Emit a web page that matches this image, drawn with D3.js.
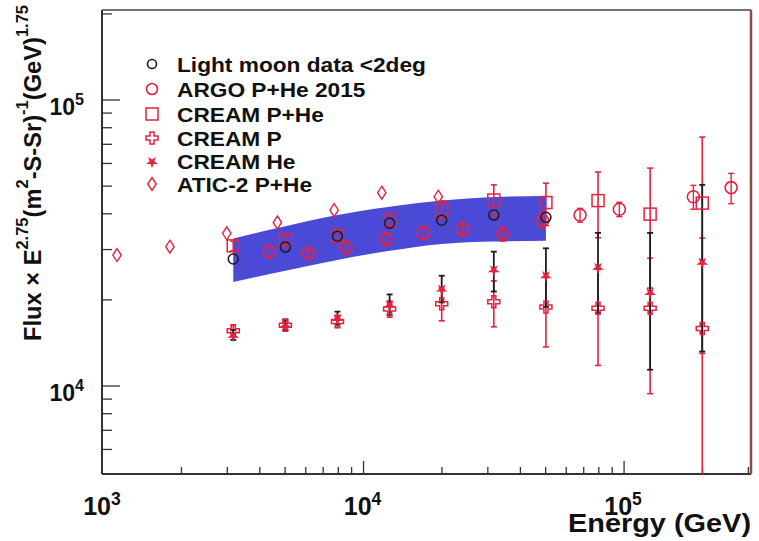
<!DOCTYPE html>
<html>
<head>
<meta charset="utf-8">
<script src="https://cdn.jsdelivr.net/npm/d3@7"></script>
<style>
  html, body { margin: 0; padding: 0; background: #fff; }
  svg { display: block; font-family: "Liberation Sans", Arial, Helvetica, sans-serif; }
</style>
</head>
<body>
<svg id="chart" width="759" height="541"></svg>
<script>
// ---- data -------------------------------------------------------------
// CREAM energy bins (GeV)
const creamE = [3162, 5012, 7943, 12589, 19953, 31623, 50119, 79433, 125893, 199526];
// CREAM P+He
const creamPHe = [30900, 32400, 33500, 38000, 41400, 44700, 43800, 44500, 39900, 43600];
const creamPHeErr = [1200, 1300, 1500, 2000, 3000, 5800, 7400, 11500, 17900, 30600];
// CREAM P
const creamP = [15600, 16300, 16800, 18600, 19400, 19700, 18900, 18700, 18700, 15900];
const creamPErr = [700, 700, 800, 1200, 2500, 3600, 5200, 6900, 9300, 17000];
// CREAM He (asymmetric errors)
const creamHe = [15100, 16400, 17300, 19300, 21900, 25600, 24400, 26100, 21300, 27200];
const creamHeErrLo = [600, 700, 900, 1600, 2300, 4200, 5500, 8100, 9900, 14000];
const creamHeErrHi = [600, 700, 900, 1600, 2400, 3900, 5900, 8200, 13000, 23300];

// Light moon data <2deg
const moonE = [3162, 5012, 7943, 12589, 19953, 31623, 50119];
const moonFlux = [27800, 30600, 33400, 37100, 38000, 39600, 38900];
// systematic band around the moon data
const bandLow = [23100, 25300, 27600, 29700, 31400, 32000, 32200];
const bandHigh = [32800, 36200, 39600, 42300, 44500, 45800, 46200];

// ARGO P+He 2015
const argoE = [4345, 6140, 8570, 12190, 16970, 24040, 34210, 48710, 67760, 95910, 184500, 257600];
const argoFlux = [29500, 29100, 30500, 32700, 34300, 35300, 34000, 37900, 39600, 41500, 45900, 49400];
const argoErr = [1400, 1400, 1500, 1700, 1800, 1900, 1900, 2100, 2200, 2400, 4400, 6000];

// ATIC-2 P+He
const aticE = [1132, 1807, 2985, 4670, 7710, 11750, 19360];
const aticFlux = [28700, 30700, 34200, 37300, 41200, 47400, 45900];

const legendLabels = ["Light moon data <2deg", "ARGO P+He 2015", "CREAM P+He", "CREAM P", "CREAM He", "ATIC-2 P+He"];
const xTickLabels = ["3", "4", "5"];   // exponents of 10
const yTickLabels = ["4", "5"];

// ---- drawing ----------------------------------------------------------
const RED = "#e8213f";
const BLACK = "#1e1e1e";
const BLUE = "#4a4ad6";

const svg = d3.select("#chart");
const pL = 102, pR = 751, pT = 10, pB = 474;

const x = d3.scaleLog().domain([1e3, 3.07e5]).range([103, pR]);
const y = d3.scaleLog().domain([4924, 206400]).range([pB, pT]);
const yMin = y.domain()[0];
const yc = v => y(Math.max(v, yMin));

// band
const band = d3.area()
  .x((d, i) => x(moonE[i]))
  .y0((d, i) => y(bandLow[i]))
  .y1((d, i) => y(bandHigh[i]))
  .curve(d3.curveMonotoneX);
svg.append("path").datum(moonE).attr("d", band).attr("fill", BLUE);

// frame
const frame = svg.append("g");
frame.append("line").attr("x1", pL).attr("x2", pR).attr("y1", pT).attr("y2", pT)
  .attr("stroke", "#444").attr("stroke-width", 1.5);
frame.append("line").attr("x1", pL).attr("x2", pL).attr("y1", pT).attr("y2", pB)
  .attr("stroke", "#333").attr("stroke-width", 2);
frame.append("line").attr("x1", pL).attr("x2", pR).attr("y1", pB).attr("y2", pB)
  .attr("stroke", "#333").attr("stroke-width", 2);
frame.append("line").attr("x1", pR).attr("x2", pR).attr("y1", pT).attr("y2", pB)
  .attr("stroke", "#8a4848").attr("stroke-width", 2.5);

// ticks
const isMajor = v => Math.abs(Math.log10(v) - Math.round(Math.log10(v))) < 1e-6;
const xt = x.ticks().filter(v => v > x.domain()[0] * 1.01 && v < x.domain()[1]);
svg.append("g").selectAll("line").data(xt).join("line")
  .attr("x1", d => x(d)).attr("x2", d => x(d))
  .attr("y1", pB).attr("y2", d => pB - (isMajor(d) ? 13 : 7))
  .attr("stroke", "#333").attr("stroke-width", 1.3);
const yt = y.ticks().filter(v => v > yMin * 1.02 && v < y.domain()[1]);
svg.append("g").selectAll("line").data(yt).join("line")
  .attr("x1", pL).attr("x2", d => pL + (isMajor(d) ? 18 : 10))
  .attr("y1", d => y(d)).attr("y2", d => y(d))
  .attr("stroke", "#333").attr("stroke-width", 1.3);

// tick labels
function powerLabel(g, exp, fs) {
  g.append("tspan").text("10");
  g.append("tspan").attr("font-size", fs * 0.7).attr("dy", -fs * 0.42).text(exp);
}
xTickLabels.forEach(e => {
  const t = svg.append("text").attr("x", x(Math.pow(10, +e)) - 1).attr("y", 515)
    .attr("text-anchor", "middle").attr("font-weight", "bold").attr("font-size", 25).attr("fill", "#111");
  powerLabel(t, e, 25);
});
yTickLabels.forEach(e => {
  const t = svg.append("text").attr("x", 84).attr("y", y(Math.pow(10, +e)) + 15)
    .attr("text-anchor", "end").attr("font-weight", "bold").attr("font-size", 23).attr("fill", "#111");
  powerLabel(t, e, 23);
});

// axis titles
svg.append("text").attr("x", pR).attr("y", 532).attr("text-anchor", "end")
  .attr("font-weight", "bold").attr("font-size", 25).attr("fill", "#111")
  .attr("textLength", 183).attr("lengthAdjust", "spacingAndGlyphs")
  .text("Energy (GeV)");

const yTitle = svg.append("text").attr("transform", "translate(41,341) rotate(-90)")
  .attr("font-weight", "bold").attr("font-size", 23).attr("fill", "#111");
const parts = [["Flux × E", 0], ["2.75", 1], ["(m", 0], ["2", 1], ["-S-Sr)", 0], ["-1", 1], ["(GeV)", 0], ["1.75", 1]];
let raised = false;
parts.forEach(([s, sup]) => {
  const ts = yTitle.append("tspan").text(s);
  if (sup) { ts.attr("font-size", 16).attr("dy", raised ? 0 : -13); raised = true; }
  else { ts.attr("dy", raised ? 13 : 0); raised = false; }
});
yTitle.attr("textLength", 336).attr("lengthAdjust", "spacingAndGlyphs");

// marker helpers
const diamondPath = "M0,-6.5L4.2,0L0,6.5L-4.2,0Z";
function mCircle(g, cx, cy, r, col) {
  g.append("circle").attr("cx", cx).attr("cy", cy).attr("r", r)
    .attr("fill", "none").attr("stroke", col).attr("stroke-width", 1.6);
}
function mSquare(g, cx, cy) {
  g.append("rect").attr("x", cx - 6).attr("y", cy - 6).attr("width", 12).attr("height", 12)
    .attr("fill", "none").attr("stroke", RED).attr("stroke-width", 1.5);
}
function mCross(g, cx, cy) {
  g.append("path").attr("d", d3.symbol(d3.symbolCross, 80)()).attr("transform", `translate(${cx},${cy})`)
    .attr("fill", "none").attr("stroke", RED).attr("stroke-width", 1.5);
}
function mStar(g, cx, cy) {
  g.append("path").attr("d", d3.symbol(d3.symbolStar, 45)()).attr("transform", `translate(${cx},${cy + 1}) rotate(180)`)
    .attr("fill", RED);
}
function mDiamond(g, cx, cy) {
  g.append("path").attr("d", diamondPath).attr("transform", `translate(${cx},${cy})`)
    .attr("fill", "none").attr("stroke", RED).attr("stroke-width", 1.4);
}
function errBar(g, cx, lo, hi, col, w) {
  const y1 = yc(lo), y2 = yc(hi);
  g.append("line").attr("x1", cx).attr("x2", cx).attr("y1", y1).attr("y2", y2)
    .attr("stroke", col).attr("stroke-width", w);
  [y1, y2].forEach(yy => {
    if (yy < pB - 1) g.append("line").attr("x1", cx - 3).attr("x2", cx + 3).attr("y1", yy).attr("y2", yy)
      .attr("stroke", col).attr("stroke-width", w);
  });
}

const marks = svg.append("g");
// error bars
creamE.forEach((e, i) => errBar(marks, x(e), creamPHe[i] - creamPHeErr[i], creamPHe[i] + creamPHeErr[i], RED, 1.6));
creamE.forEach((e, i) => errBar(marks, x(e), creamP[i] - creamPErr[i], creamP[i] + creamPErr[i], RED, 1.6));
creamE.forEach((e, i) => errBar(marks, x(e), creamHe[i] - creamHeErrLo[i], creamHe[i] + creamHeErrHi[i], BLACK, 1.8));
argoE.forEach((e, i) => errBar(marks, x(e), argoFlux[i] - argoErr[i], argoFlux[i] + argoErr[i], RED, 1.4));

// markers
aticE.forEach((e, i) => mDiamond(marks, x(e), y(aticFlux[i])));
creamE.forEach((e, i) => mSquare(marks, x(e), y(creamPHe[i])));
creamE.forEach((e, i) => mCross(marks, x(e), y(creamP[i])));
creamE.forEach((e, i) => mStar(marks, x(e), y(creamHe[i])));
argoE.forEach((e, i) => mCircle(marks, x(e), y(argoFlux[i]), 6, RED));
moonE.forEach((e, i) => mCircle(marks, x(e), y(moonFlux[i]), 5, BLACK));

// legend
const legendRows = [64, 89, 114, 138, 161, 184];
const lg = svg.append("g");
mCircle(lg, 152, legendRows[0], 4.5, BLACK);
mCircle(lg, 152, legendRows[1], 5.5, RED);
mSquare(lg, 152, legendRows[2]);
mCross(lg, 152, legendRows[3]);
mStar(lg, 152, legendRows[4]);
mDiamond(lg, 152, legendRows[5]);
legendLabels.forEach((s, i) => {
  const t = lg.append("text").attr("x", 177).attr("y", legendRows[i] + 8)
    .attr("font-weight", "bold").attr("font-size", 21).attr("fill", "#111").text(s);
  const w = t.node().getComputedTextLength();
  t.attr("textLength", w * 1.08).attr("lengthAdjust", "spacingAndGlyphs");
});
</script>
</body>
</html>
